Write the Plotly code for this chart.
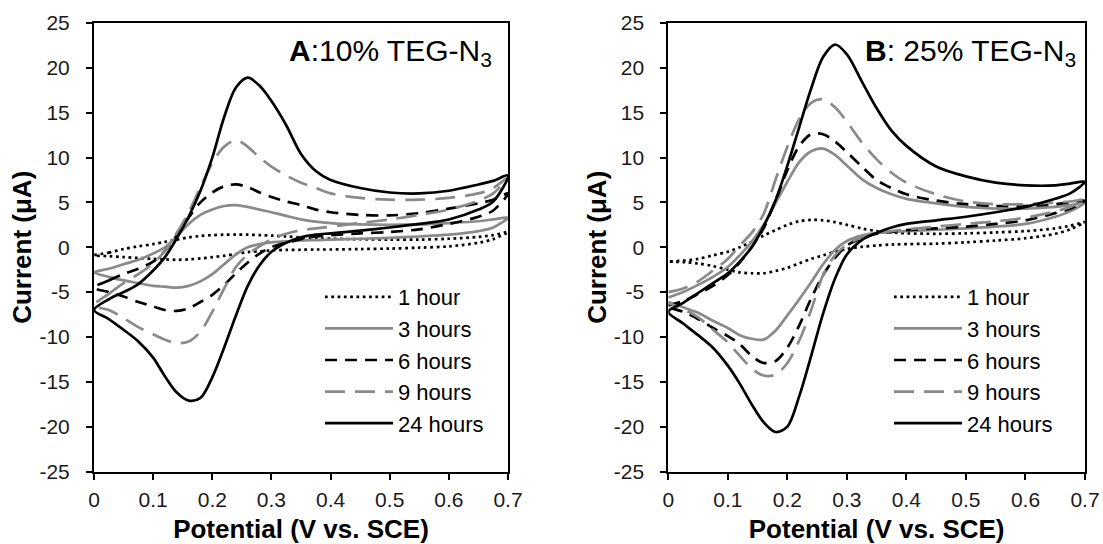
import plotly.graph_objects as go

# Potential grid (V vs. SCE) shared by forward and reverse scans
potential = [0, 0.025, 0.05, 0.075, 0.1, 0.12, 0.14, 0.16, 0.18, 0.2, 0.22, 0.24, 0.26,
             0.28, 0.3, 0.325, 0.35, 0.375, 0.4, 0.45, 0.5, 0.55, 0.6, 0.65, 0.675, 0.7]

series_names = ["1 hour", "3 hours", "6 hours", "9 hours", "24 hours"]

# ---- Panel A: 10% TEG-N3 (current in uA) ----
a_1h_fwd = [-0.9, -0.6, -0.2, 0.1, 0.35, 0.6, 0.85, 1.1, 1.25, 1.35, 1.4, 1.4, 1.4, 1.35, 1.3, 1.2, 1.1, 1.0, 0.95, 0.9, 0.85, 0.85, 0.95, 1.15, 1.35, 1.7]
a_1h_rev = [-0.9, -1.0, -1.1, -1.2, -1.3, -1.35, -1.4, -1.35, -1.25, -1.1, -0.95, -0.75, -0.55, -0.45, -0.35, -0.3, -0.28, -0.25, -0.25, -0.2, -0.15, -0.05, 0.1, 0.5, 0.9, 1.7]
a_3h_fwd = [-2.8, -2.4, -1.9, -1.4, -0.7, 0.0, 1.2, 2.6, 3.6, 4.2, 4.6, 4.7, 4.5, 4.2, 3.9, 3.5, 3.1, 2.85, 2.7, 2.55, 2.5, 2.55, 2.7, 2.9, 3.1, 3.3]
a_3h_rev = [-2.8, -3.3, -3.7, -4.0, -4.3, -4.4, -4.5, -4.3, -3.8, -3.0, -1.9, -0.8, 0.0, 0.35, 0.55, 0.65, 0.75, 0.8, 0.85, 0.95, 1.05, 1.2, 1.4, 1.8, 2.2, 3.3]
a_6h_fwd = [-4.5, -3.7, -3.0, -2.4, -1.6, -0.4, 1.3, 3.3, 5.0, 6.1, 6.8, 7.0, 6.7, 6.1, 5.6, 5.1, 4.7, 4.2, 3.9, 3.6, 3.55, 3.8, 4.3, 4.9, 5.3, 6.0]
a_6h_rev = [-4.5, -5.0, -5.5, -6.1, -6.6, -7.0, -7.1, -6.8, -6.1, -5.3, -4.2, -2.9, -1.7, -0.7, 0.0, 0.5, 0.9, 1.2, 1.35, 1.55, 1.7, 2.0, 2.6, 3.4, 4.1, 6.0]
a_9h_fwd = [-6.5, -5.2, -4.0, -3.0, -1.8, -0.4, 1.6, 3.9, 6.7, 9.4, 11.2, 11.95, 11.2, 10.0, 9.0, 8.0, 7.2, 6.6, 6.0, 5.5, 5.3, 5.3, 5.5, 6.0, 6.6, 7.8]
a_9h_rev = [-6.5, -7.0, -7.9, -8.9, -9.7, -10.3, -10.7, -10.5, -9.4, -7.2, -4.6, -2.2, -0.8, 0.1, 0.9, 1.5, 1.9, 2.1, 2.3, 2.7, 3.1, 3.6, 4.2, 5.2, 6.0, 7.8]
a_24h_fwd = [-7.0, -5.8, -5.0, -4.1, -2.6, -1.1, 1.0, 3.4, 6.3, 10.0, 14.5, 17.8, 18.9, 18.0, 16.3, 13.6, 10.4, 8.5, 7.5, 6.6, 6.1, 6.0, 6.3, 7.0, 7.4, 8.0]
a_24h_rev = [-7.0, -8.0, -9.2, -10.5, -12.3, -14.4, -16.2, -17.1, -16.8, -14.5, -11.2, -7.6, -4.3, -2.0, -0.5, 0.5, 1.1, 1.4, 1.55, 1.85, 2.2, 2.6, 3.1, 4.2, 5.1, 8.0]

# ---- Panel B: 25% TEG-N3 (current in uA) ----
b_1h_fwd = [-1.6, -1.5, -1.3, -0.9, -0.5, 0.0, 0.6, 1.3, 1.9, 2.5, 2.9, 3.05, 3.0, 2.8, 2.5, 2.1, 1.8, 1.65, 1.55, 1.5, 1.55, 1.65, 1.8, 2.1, 2.4, 2.8]
b_1h_rev = [-1.6, -1.65, -1.8, -2.1, -2.5, -2.8, -2.9, -2.9, -2.65, -2.3, -1.8, -1.3, -0.9, -0.5, -0.2, 0.05, 0.2, 0.3, 0.35, 0.4, 0.55, 0.75, 1.0, 1.5, 2.0, 2.8]
b_3h_fwd = [-5.6, -5.0, -4.2, -3.3, -2.2, -0.9, 0.6, 2.5, 4.9, 7.3, 9.5, 10.7, 11.0, 10.3, 9.1, 7.6, 6.6, 5.9, 5.4, 4.9, 4.5, 4.3, 4.3, 4.5, 4.7, 5.0]
b_3h_rev = [-6.1, -6.7, -7.3, -8.2, -9.0, -9.8, -10.2, -10.3, -9.3, -7.6, -5.8, -3.9, -1.9, -0.3, 0.7, 1.3, 1.6, 1.7, 1.8, 1.95, 2.1, 2.3, 2.6, 3.4, 4.0, 5.0]
b_6h_fwd = [-6.5, -6.0, -5.2, -4.3, -3.1, -1.7, 0.0, 2.1, 5.2, 8.6, 11.3, 12.6, 12.6, 11.8, 10.6, 9.0, 7.5, 6.6, 5.9, 5.2, 4.8, 4.6, 4.6, 4.8, 5.0, 5.2]
b_6h_rev = [-6.7, -7.2, -8.0, -9.0, -9.9, -10.8, -12.1, -12.9, -12.7, -11.2, -8.7, -5.7, -3.1, -1.2, 0.2, 1.0, 1.5, 1.7, 1.9, 2.1, 2.3, 2.6, 3.0, 3.8, 4.3, 5.2]
b_9h_fwd = [-5.0, -4.6, -3.8, -2.6, -1.3, 0.2, 1.6, 3.7, 7.5, 11.2, 14.3, 16.1, 16.5, 15.6, 14.0, 11.7, 9.8, 8.3, 7.2, 5.9, 5.1, 4.8, 4.8, 5.0, 5.1, 5.3]
b_9h_rev = [-6.2, -6.9, -7.8, -9.2, -10.6, -12.1, -13.5, -14.3, -14.2, -12.9, -10.4, -7.0, -3.1, -0.9, 0.3, 1.1, 1.5, 1.8, 2.0, 2.3, 2.6, 2.9, 3.3, 4.0, 4.5, 5.3]
b_24h_fwd = [-7.2, -6.2, -5.1, -4.0, -2.9, -1.6, 0.0, 2.3, 5.2, 9.1, 13.4, 17.7, 21.2, 22.6, 21.5, 18.5, 15.5, 13.0, 11.3, 9.0, 7.9, 7.2, 6.9, 6.9, 7.1, 7.3]
b_24h_rev = [-7.2, -8.5, -9.8, -11.2, -13.2, -15.2, -17.5, -19.5, -20.6, -20.0, -16.6, -12.1, -7.4, -3.5, -0.8, 0.8, 1.6, 2.2, 2.6, 3.0, 3.4, 3.9, 4.5, 5.4, 6.0, 7.3]

x_ticks = [0, 0.1, 0.2, 0.3, 0.4, 0.5, 0.6, 0.7]
x_labels = ["0", "0.1", "0.2", "0.3", "0.4", "0.5", "0.6", "0.7"]
y_ticks = [-25, -20, -15, -10, -5, 0, 5, 10, 15, 20, 25]
y_labels = ["-25", "-20", "-15", "-10", "-5", "0", "5", "10", "15", "20", "25"]

GRAY = "#8a8a8a"
styles = [
    dict(color="black", width=2.7, dash="2.7px,3.6px"),
    dict(color=GRAY, width=2.7, dash="solid"),
    dict(color="black", width=2.7, dash="12px,8px"),
    dict(color=GRAY, width=2.7, dash="20px,10px"),
    dict(color="black", width=2.7, dash="solid"),
]

panel_a = [(a_1h_fwd, a_1h_rev), (a_3h_fwd, a_3h_rev), (a_6h_fwd, a_6h_rev),
           (a_9h_fwd, a_9h_rev), (a_24h_fwd, a_24h_rev)]
panel_b = [(b_1h_fwd, b_1h_rev), (b_3h_fwd, b_3h_rev), (b_6h_fwd, b_6h_rev),
           (b_9h_fwd, b_9h_rev), (b_24h_fwd, b_24h_rev)]

FONT = "Liberation Sans, Arial, sans-serif"
fig = go.Figure()

for panel, (xa, ya, leg) in [(panel_a, ("x", "y", "legend")), (panel_b, ("x2", "y2", "legend2"))]:
    for name, st, (fwd, rev) in zip(series_names, styles, panel):
        xs = potential + potential[::-1][1:]
        ys = fwd + rev[::-1][1:]
        fig.add_trace(go.Scatter(
            x=xs, y=ys, mode="lines", name=name, xaxis=xa, yaxis=ya,
            legend=leg, legendgroup=leg + name,
            line=dict(color=st["color"], width=st["width"], dash=st["dash"],
                      shape="spline", smoothing=0.9),
            hoverinfo="skip"))

W, H = 1103, 544
xa_dom = [94 / W, 508 / W]
xb_dom = [668.3 / W, 1085 / W]
y_dom = [(H - 471.5) / H, (H - 23) / H]

tickfont = dict(family=FONT, size=21, color="#1a1a1a")
titlefont = dict(family=FONT, size=26, color="black")

def xaxis_main(dom, anchor):
    return dict(domain=dom, anchor=anchor, range=[0, 0.7], tickvals=x_ticks, ticktext=x_labels,
                ticks="outside", ticklen=6, tickwidth=2, tickcolor="black",
                showline=True, linecolor="black", linewidth=2, mirror=True,
                showgrid=False, zeroline=False, tickfont=tickfont,
                ticklabelstandoff=2,
                title=dict(text="<b>Potential (V vs. SCE)</b>", font=titlefont, standoff=10),
                automargin=False)

def yaxis_main(anchor):
    return dict(domain=y_dom, anchor=anchor, range=[-25, 25], tickvals=y_ticks, ticktext=y_labels,
                ticks="outside", ticklen=6, tickwidth=2, tickcolor="black",
                showline=True, linecolor="black", linewidth=2, mirror=True,
                showgrid=False, zeroline=False, tickfont=tickfont,
                ticklabelstandoff=12,
                title=dict(text="<b>Current (μA)</b>", font=titlefont, standoff=0),
                automargin=False)

def xaxis_inner(dom, over, anchor):
    return dict(domain=dom, overlaying=over, anchor=anchor, range=[0, 0.7], tickvals=x_ticks,
                ticks="inside", ticklen=6, tickwidth=2, tickcolor="black",
                showticklabels=False, showline=False, showgrid=False, zeroline=False)

def yaxis_inner(over, anchor):
    return dict(domain=y_dom, overlaying=over, anchor=anchor, range=[-25, 25], tickvals=y_ticks,
                ticks="inside", ticklen=6, tickwidth=2, tickcolor="black",
                showticklabels=False, showline=False, showgrid=False, zeroline=False)

legend_common = dict(font=dict(family=FONT, size=22, color="black"),
                     bgcolor="rgba(0,0,0,0)", traceorder="grouped", tracegroupgap=0,
                     itemwidth=68,
                     xanchor="left", yanchor="top", y=1 - 276 / H)

fig.update_layout(
    width=W, height=H, margin=dict(l=0, r=0, t=0, b=0),
    paper_bgcolor="white", plot_bgcolor="white", showlegend=True,
    xaxis=xaxis_main(xa_dom, "y"), yaxis=yaxis_main("x"),
    xaxis2=xaxis_main(xb_dom, "y2"), yaxis2=yaxis_main("x2"),
    xaxis3=xaxis_inner(xa_dom, "x", "y"), yaxis3=yaxis_inner("y", "x"),
    xaxis4=xaxis_inner(xb_dom, "x2", "y2"), yaxis4=yaxis_inner("y2", "x2"),
    legend=dict(x=320 / W, **legend_common),
    legend2=dict(x=889 / W, **legend_common),
    annotations=[
        dict(text="<b>A</b>:10% TEG-N<sub>3</sub>", xref="paper", yref="paper",
             x=494 / W, y=1 - 53 / H, xanchor="right", yanchor="middle", showarrow=False,
             font=dict(family=FONT, size=30, color="black")),
        dict(text="<b>B</b>: 25% TEG-N<sub>3</sub>", xref="paper", yref="paper",
             x=1078 / W, y=1 - 53 / H, xanchor="right", yanchor="middle", showarrow=False,
             font=dict(family=FONT, size=30, color="black")),
    ],
)

fig.write_html("out.html", config={"displayModeBar": False},
               post_script="document.body.style.margin='0px';")
